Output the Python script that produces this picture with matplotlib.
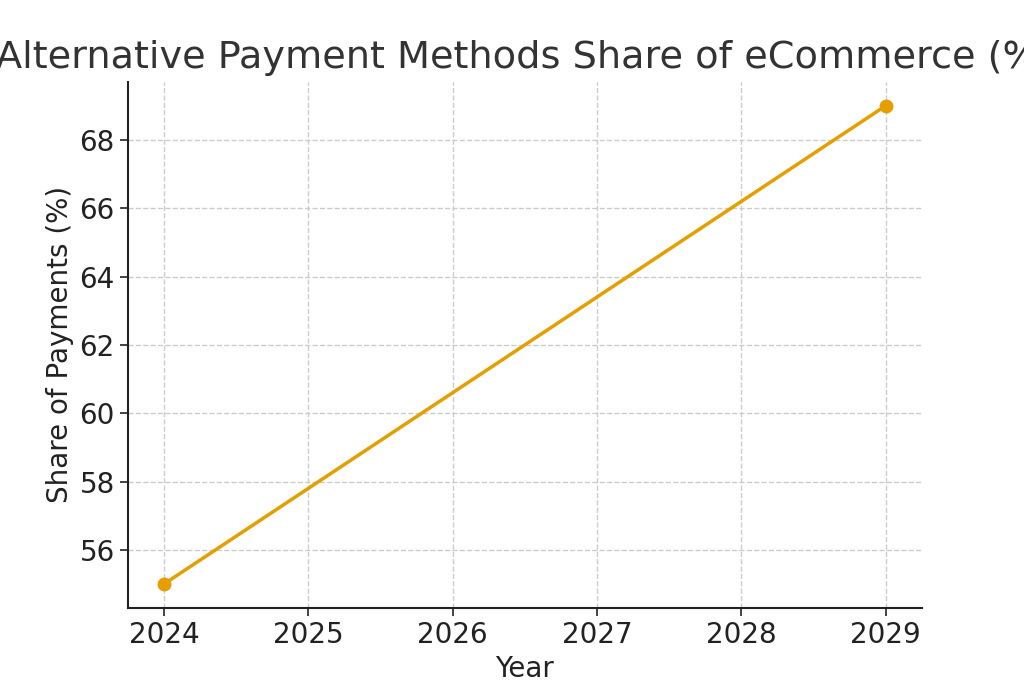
import matplotlib
matplotlib.use("Agg")
import matplotlib.pyplot as plt

years = [2024, 2029]
share = [55, 69]

plt.rcParams['font.family'] = ['DejaVu Sans']
fig, ax = plt.subplots(figsize=(10.24, 6.83), dpi=100)

ax.plot(years, share, color='#E69F00', linewidth=2.5, marker='o', markersize=9)

ax.set_title("Alternative Payment Methods Share of eCommerce (%)", fontsize=27.5,
             color='#333333', pad=10)
ax.set_xlabel("Year", fontsize=20, color='#222222')
ax.set_ylabel("Share of Payments (%)", fontsize=20, color='#222222')
ax.set_xticks(range(2024, 2030))
ax.set_yticks(range(56, 70, 2))
ax.tick_params(labelsize=20, colors='#222222', length=6, width=1.2)
ax.grid(True, linestyle='--', color='#cccccc', linewidth=1)
ax.spines['top'].set_visible(False)
ax.spines['right'].set_visible(False)
for s in ('left', 'bottom'):
    ax.spines[s].set_linewidth(1.5)
    ax.spines[s].set_color('#222222')

fig.savefig("out.png", dpi=100)
